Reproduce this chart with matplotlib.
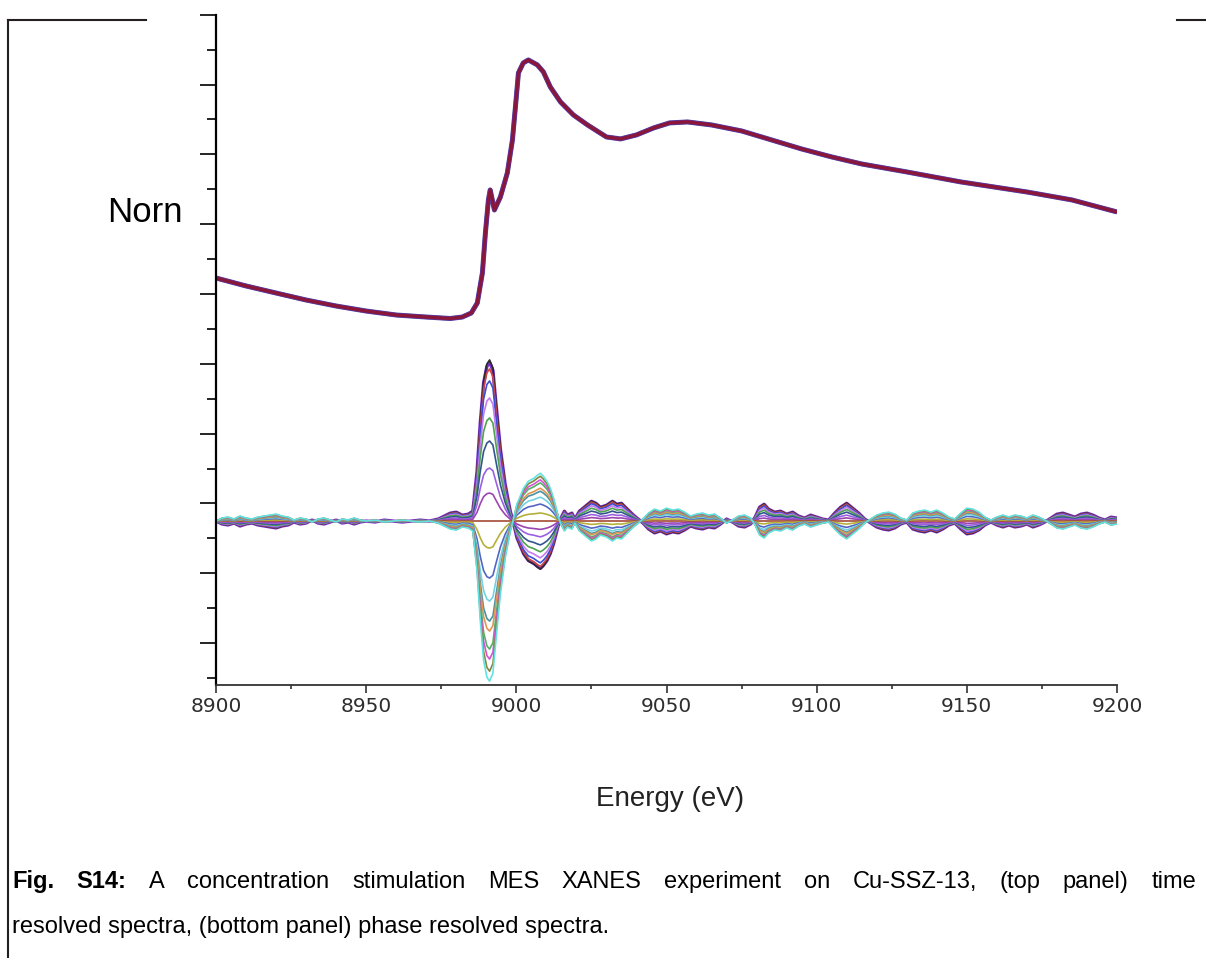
import numpy as np
import matplotlib
matplotlib.use('Agg')
import matplotlib.pyplot as plt
from matplotlib.lines import Line2D

W, H = 1206, 958

# time resolved spectrum (top panel)
top_energy = [8900, 8910, 8920, 8930, 8940, 8950, 8960, 8970, 8978, 8982, 8985, 8987,
              8988.7, 8989.7, 8990.7, 8991.3, 8992.7, 8994.7, 8997, 8998.7, 8999.7,
              9000.7, 9002.3, 9004, 9007, 9009, 9011.3, 9014.7, 9019, 9023.7, 9030,
              9034.7, 9040, 9045.7, 9051, 9057, 9065, 9075, 9085, 9095, 9105, 9115,
              9130, 9148, 9170, 9185, 9200]
top_absorb = [5.229, 5.115, 5.014, 4.914, 4.828, 4.756, 4.699, 4.670, 4.649, 4.670, 4.728, 4.871,
              5.301, 5.874, 6.347, 6.490, 6.203, 6.390, 6.734, 7.206, 7.679,
              8.166, 8.309, 8.352, 8.281, 8.181, 7.966, 7.751, 7.564, 7.421, 7.249,
              7.221, 7.278, 7.378, 7.450, 7.464, 7.421, 7.335, 7.206, 7.077, 6.963, 6.862,
              6.748, 6.605, 6.461, 6.347, 6.175]
top_colors = ['#4a4aa8', '#6e2a8c', '#8a1638']
top_widths = [3.6, 3.0, 2.2]

# phase resolved spectra (bottom panel): baseline, shape of the strongest phase, amplitudes
mes_baseline = 1.748
mes_energy = [8900, 8902, 8904, 8906, 8908, 8910, 8912, 8914, 8916, 8918, 8920, 8922, 8924,
              8926, 8928, 8930, 8932, 8934, 8936, 8938, 8940, 8942, 8944, 8946, 8948, 8950,
              8953, 8956, 8959, 8962, 8965, 8968, 8971, 8974, 8976, 8978, 8980, 8982, 8984,
              8985.5, 8986.9, 8988, 8989.1, 8990.2, 8991.1, 8992.2, 8993.3, 8994.7, 8996.3,
              8998, 8998.9, 9000.2, 9002.4, 9004, 9005.8, 9007, 9008, 9009, 9010.2, 9011.3,
              9012.4, 9014.1, 9015, 9016, 9017, 9018.5, 9019.5, 9021, 9023, 9025, 9026.5,
              9028, 9030, 9032, 9033.5, 9035, 9037, 9039, 9041, 9042.5, 9044, 9046, 9048,
              9050, 9052, 9054, 9056, 9058, 9060, 9062, 9064, 9066, 9068, 9070, 9072, 9074,
              9076, 9078, 9079.5, 9081, 9082.5, 9084, 9086, 9088, 9090, 9092, 9094, 9096,
              9098, 9100, 9102, 9104, 9106, 9108, 9110, 9112, 9114, 9116, 9118, 9120, 9122,
              9124, 9126, 9128, 9130, 9132, 9134, 9136, 9138, 9140, 9142, 9144, 9146, 9148,
              9150, 9152, 9154, 9156, 9158, 9160, 9162, 9164, 9166, 9168, 9170, 9172, 9174,
              9176, 9178, 9180, 9182, 9184, 9186, 9188, 9190, 9192, 9194, 9196, 9198, 9200]
mes_shape = [0.0, -0.043, -0.057, -0.029, -0.072, -0.043, -0.029, -0.057, -0.072, -0.086, -0.100, -0.072, -0.057,
             -0.014, -0.043, -0.029, 0.014, -0.029, -0.043, -0.014, 0.014, -0.029, -0.014, -0.043, -0.014, 0.0,
             -0.014, 0.014, 0.0, -0.014, 0.0, 0.014, 0.0, 0.029, 0.072, 0.115, 0.129, 0.086, 0.100,
             0.143, 0.716, 1.433, 2.006, 2.249, 2.307, 2.192, 1.676, 1.046, 0.530,
             0.143, 0.0, -0.244, -0.473, -0.573, -0.616, -0.659, -0.688, -0.645, -0.573, -0.473,
             -0.330, -0.043, 0.057, 0.143, 0.086, 0.115, 0.029, 0.143, 0.215, 0.287, 0.258,
             0.201, 0.229, 0.287, 0.244, 0.258, 0.172, 0.086, 0.014, -0.043, -0.115, -0.172, -0.143,
             -0.186, -0.158, -0.172, -0.129, -0.072, -0.100, -0.115, -0.086, -0.100, -0.043, 0.029, -0.014, -0.072,
             -0.086, -0.043, 0.057, 0.201, 0.244, 0.172, 0.129, 0.143, 0.100, 0.129, 0.072, 0.043,
             0.086, 0.057, 0.029, 0.014, 0.115, 0.201, 0.258, 0.186, 0.115, 0.029, -0.029, -0.086, -0.115,
             -0.129, -0.100, -0.043, -0.014, -0.115, -0.143, -0.158, -0.129, -0.158, -0.115, -0.057, -0.029, -0.115,
             -0.186, -0.172, -0.129, -0.057, -0.014, -0.057, -0.086, -0.057, -0.086, -0.072, -0.043, -0.086, -0.057,
             -0.014, 0.043, 0.100, 0.115, 0.086, 0.057, 0.100, 0.115, 0.086, 0.043, 0.014, 0.057, 0.043]
phase_amp = [0.985, 1.0, 0.944, 0.870, 0.764, 0.640, 0.497, 0.329, 0.174, 0.0,
             -0.168, -0.354, -0.497, -0.621, -0.683, -0.795, -0.857, -0.932, -0.994]
phase_colors = ['#7a2ccc', '#2a2a2a', '#d04545', '#3a50d0', '#c47af2', '#4fa24f', '#33558f',
                '#9a60e0', '#9a45b0', '#a44a35', '#b5b03a', '#5565c4', '#72d2e2', '#4a92a2',
                '#e29552', '#52b262', '#d455d4', '#85853f', '#62e2e2']
phase_widths = [2.4] + [1.2] * 18

xticks = [8900, 8950, 9000, 9050, 9100, 9150, 9200]

fig = plt.figure(figsize=(W / 100, H / 100), dpi=100)
ax = fig.add_axes([216 / W, 1 - 685 / H, (1117 - 216) / W, (685 - 14.7) / H])

for c, lw in zip(top_colors, top_widths):
    ax.plot(top_energy, top_absorb, color=c, lw=lw, solid_capstyle='butt')

shape = np.array(mes_shape)
for a, c, lw in zip(phase_amp, phase_colors, phase_widths):
    ax.plot(mes_energy, mes_baseline + a * shape, color=c, lw=lw)

ax.set_xlim(8900, 9200)
ax.set_ylim(-0.6, 9.0)
ax.set_xticks(xticks)
ax.set_xticks(np.arange(8925, 9200, 50), minor=True)
ax.set_yticks(np.arange(0, 9.5, 1))
ax.set_yticks(np.arange(-0.5, 9, 1), minor=True)
ax.set_yticklabels([])
for s in ['top', 'right']:
    ax.spines[s].set_visible(False)
ax.spines['left'].set_linewidth(1.6)
ax.spines['bottom'].set_linewidth(1.3)
ax.spines['bottom'].set_color('#333333')
ax.tick_params(axis='y', which='major', direction='out', length=11.5, width=1.2)
ax.tick_params(axis='y', which='minor', direction='out', length=6.5, width=1.2)
ax.tick_params(axis='x', which='major', direction='out', length=5.5, width=1.2,
               color='#333333', pad=3, labelsize=14.5, labelcolor='#2e2e2e')
ax.tick_params(axis='x', which='minor', direction='out', length=3, width=1.2, color='#333333')
for lab in ax.get_xticklabels():
    lab.set_family('DejaVu Sans')

# truncated y label and x label
fig.text(107 / W, 1 - 212 / H, 'Norn', fontsize=25, family=['Liberation Sans', 'DejaVu Sans'],
         va='center', ha='left')
fig.text(670 / W, 1 - 799 / H, 'Energy (eV)', fontsize=20,
         family=['Liberation Sans Narrow', 'Liberation Sans'], ha='center', va='center', color='#222222')

# frame lines
frame = '#231f20'
fig.add_artist(Line2D([8 / W, 8 / W], [0, 1 - 20 / H], color=frame, lw=1.5))
fig.add_artist(Line2D([8 / W, 146 / W], [1 - 20 / H, 1 - 20 / H], color=frame, lw=1.5))
fig.add_artist(Line2D([1177 / W, 1], [1 - 20 / H, 1 - 20 / H], color=frame, lw=1.5))

# caption, first line justified
cap_font = ['Liberation Sans Narrow', 'Liberation Sans']
cap_size = 17
words1 = ['Fig.', 'S14:', 'A', 'concentration', 'stimulation', 'MES', 'XANES', 'experiment', 'on',
          'Cu-SSZ-13,', '(top', 'panel)', 'time']
texts = []
for i, w in enumerate(words1):
    t = fig.text(12 / W, 1 - 888 / H, w, fontsize=cap_size, family=cap_font,
                 fontweight='bold' if i < 2 else 'normal', va='baseline')
    texts.append(t)
fig.canvas.draw()
r = fig.canvas.get_renderer()
widths = [t.get_window_extent(r).width for t in texts]
gap = (1196 - 12 - sum(widths)) / (len(words1) - 1)
x = 12
for t, w in zip(texts, widths):
    t.set_x(x / W)
    x += w + gap
fig.text(12 / W, 1 - 933 / H, 'resolved spectra, (bottom panel) phase resolved spectra.',
         fontsize=cap_size, family=cap_font, va='baseline')

fig.savefig('out.png', dpi=100)
